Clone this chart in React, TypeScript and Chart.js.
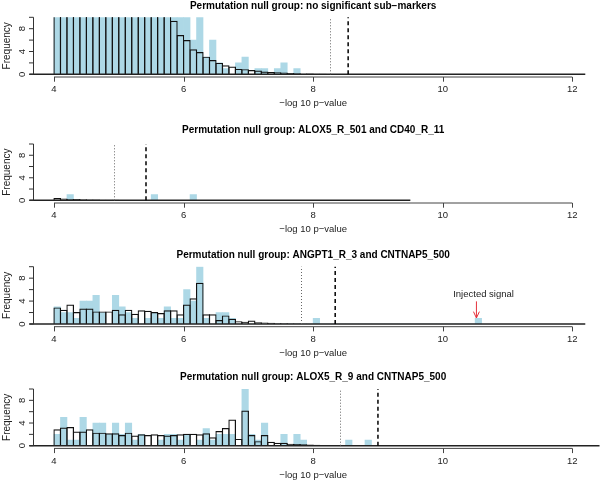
import React, { useEffect, useRef } from "react";
import { Chart, registerables } from "chart.js";

Chart.register(...registerables);

// ---------------- data ----------------
const BIN_START = 4.0;
const BIN_WIDTH = 0.1;
const X_TICKS = [4, 6, 8, 10, 12];
const Y_TICKS = [0, 2, 4, 6, 8, 10];
const Y_TICK_LABELS = ["0", "", "4", "", "8", ""];
const X_LABEL = "\u2212log 10 p\u2212value";
const Y_LABEL = "Frequency";

const TITLES = [
  "Permutation null group: no significant sub\u2212markers",
  "Permutation null group: ALOX5_R_501 and CD40_R_11",
  "Permutation null group: ANGPT1_R_3 and CNTNAP5_500",
  "Permutation null group: ALOX5_R_9 and CNTNAP5_500",
];

// panel 1 (bins of 0.1 starting at 4.0)
const p1Null = [260, 205, 160, 128, 102, 82, 66, 54, 44, 36, 30, 25, 21, 17.5, 15, 13, 11.5, 10.4,
  9.4, 6.9, 6.0, 4.4, 3.9, 3.1, 2.5, 2.0, 1.6, 1.35, 0.95, 0.9, 0.75, 0.65, 0.5, 0.4, 0.35, 0.3,
  0.22, 0.18, 0.15, 0.12, 0.1, 0.08, 0.07, 0.05, 0.05, 0.04, 0.03, 0.03, 0.02, 0.02, 0.01, 0.01, 0.01];
const p1Obs = [240, 210, 150, 135, 98, 85, 62, 57, 41, 37, 31, 24, 22, 16, 16, 12, 13, 11,
  12, 11, 10, 6, 10, 3, 6, 2, 1, 0, 2, 3, 0, 1, 1, 0, 1, 2, 0, 1];
const p1Dotted = 8.26;
const p1Dashed = 8.54;
const p1BaseEnd = 12.2;

// panel 2
const p2Null = [0.4, 0.3, 0.25, 0.22, 0.18, 0.15, 0.12, 0.1, 0.09, 0.08, 0.07, 0.06, 0.05, 0.05,
  0.04, 0.04, 0.03, 0.03, 0.03, 0.02, 0.02, 0.02, 0.02, 0.01, 0.01, 0.01];
const p2Obs = [0, 0, 1, 0, 0, 0, 0, 0, 0, 0, 0, 0, 0, 0, 0, 1, 0, 0, 0, 0, 0, 1];
const p2Dotted = 4.92;
const p2Dashed = 5.42;
const p2BaseEnd = 9.5;

// panel 3
const p3Null = [2.9, 2.5, 3.4, 2.1, 2.7, 2.7, 2.2, 2.2, 2.2, 2.5, 1.7, 2.5, 1.8, 2.4, 2.3, 2.1,
  1.9, 2.4, 2.4, 1.7, 3.4, 4.5, 7.2, 1.7, 1.7, 0.7, 1.5, 0.9, 0.5, 0.4, 0.6, 0.3, 0.25, 0.2, 0.15,
  0.15, 0.1, 0.08, 0.05];
const p3Obs = [3, 2, 2, 1, 4, 4, 5, 2, 0, 5, 3, 2, 1, 0, 1, 2, 1, 3, 1, 1, 6, 4, 10, 1, 0, 2, 2, 1,
  0, 0, 0, 0, 0, 0, 0, 0, 0, 0, 0, 0,
  1,
  0, 0, 0, 0, 0, 0, 0, 0, 0, 0, 0, 0, 0, 0, 0, 0, 0, 0, 0, 0, 0, 0, 0, 0,
  1];
const p3Dotted = 7.81;
const p3Dashed = 8.34;
const p3BaseEnd = 12.2;
const ANNOT_TEXT = "Injected signal";
const ANNOT_TEXT_AT = [10.63, 5.25];
const ANNOT_ARROW_X = 10.52;
const ANNOT_ARROW_FROM = 3.95;
const ANNOT_ARROW_TO = 1.05;

// panel 4
const p4Null = [2.9, 3.2, 3.3, 2.5, 2.5, 2.9, 2.3, 2.3, 2.2, 2.2, 1.9, 2.3, 1.8, 2.0, 1.9, 2.0,
  1.9, 1.8, 1.9, 2.0, 2.1, 2.1, 2.0, 2.2, 1.5, 2.6, 3.1, 4.6, 1.2, 6.2, 1.9, 0.8, 1.9, 0.7, 0.5,
  0.5, 0.35, 0.3, 0.25, 0.2, 0.15, 0.12, 0.1, 0.08, 0.06, 0.05, 0.04, 0.03];
const p4Obs = [2, 5, 1, 1, 5, 0, 4, 4, 2, 4, 2, 4, 1, 2, 0, 0, 1, 2, 2, 1, 2, 0, 1, 3, 1, 2, 2, 2,
  0, 10, 2, 1, 4, 0, 0, 2, 0, 2, 1, 0, 0, 0, 0, 0, 0, 1, 0, 0, 1];
const p4Dotted = 8.41;
const p4Dashed = 9.0;
const p4BaseEnd = 12.42;

// ---------------- layout / style ----------------
const W = 601;
const X_MIN = 3.6;
const X_MAX = 12.4;
const PX_PER_UNIT = 64.79;
const X4_PX = 54;
const BASE_START = 3.62;
const Y_AXIS_AT = 3.68;
const FONT = '"Liberation Sans", Arial, Helvetica, sans-serif';
const BLUE = "#ADD8E6";
const NULL_BORDER = 1.2;

const PANEL_LAYOUT = [
  { top: 0, height: 120, yTen: 17.3, yZero: 74.3, titleY: 6 },
  { top: 120, height: 120, yTen: 144, yZero: 200.3, titleY: 130 },
  { top: 240, height: 122, yTen: 266.7, yZero: 324, titleY: 255 },
  { top: 362, height: 122, yTen: 389, yZero: 445.7, titleY: 377.3 },
];

const PANELS = [
  { nul: p1Null, obs: p1Obs, dotted: p1Dotted, dashed: p1Dashed, baseEnd: p1BaseEnd, annot: false },
  { nul: p2Null, obs: p2Obs, dotted: p2Dotted, dashed: p2Dashed, baseEnd: p2BaseEnd, annot: false },
  { nul: p3Null, obs: p3Obs, dotted: p3Dotted, dashed: p3Dashed, baseEnd: p3BaseEnd, annot: true },
  { nul: p4Null, obs: p4Obs, dotted: p4Dotted, dashed: p4Dashed, baseEnd: p4BaseEnd, annot: false },
];

const toPoints = (counts: number[]) =>
  counts.map((c, i) => ({ x: BIN_START + BIN_WIDTH * (i + 0.5), y: c }));

const rAxesPlugin = {
  id: "rAxes",
  afterDatasetsDraw(chart: any, _args: any, o: any) {
    const ctx = chart.ctx as CanvasRenderingContext2D;
    const xs = chart.scales.x;
    const ys = chart.scales.y;
    const X = (v: number) => xs.getPixelForValue(v);
    const Y = (v: number) => ys.getPixelForValue(v);
    const y0 = Y(0);
    const y10 = Y(10);
    ctx.save();

    // baseline of the histograms
    ctx.strokeStyle = "#222";
    ctx.lineWidth = 1.4;
    ctx.beginPath();
    ctx.moveTo(X(BASE_START), y0);
    ctx.lineTo(X(o.baseEnd), y0);
    ctx.stroke();

    // dotted reference line
    ctx.setLineDash([1, 2]);
    ctx.strokeStyle = "#666";
    ctx.lineWidth = 1;
    let xv = Math.round(X(o.dotted)) + 0.5;
    ctx.beginPath();
    ctx.moveTo(xv, y0);
    ctx.lineTo(xv, y10);
    ctx.stroke();

    // dashed reference line
    ctx.setLineDash([4, 3]);
    ctx.strokeStyle = "#000";
    ctx.lineWidth = 1.5;
    xv = X(o.dashed);
    ctx.beginPath();
    ctx.moveTo(xv, y0);
    ctx.lineTo(xv, y10);
    ctx.stroke();
    ctx.setLineDash([]);

    // x axis
    const ax = y0 + 2.7;
    ctx.strokeStyle = "#444";
    ctx.lineWidth = 1;
    ctx.beginPath();
    ctx.moveTo(X(X_TICKS[0]), ax);
    ctx.lineTo(X(X_TICKS[X_TICKS.length - 1]), ax);
    X_TICKS.forEach((t) => {
      const px = Math.round(X(t)) + 0.5;
      ctx.moveTo(px, ax);
      ctx.lineTo(px, ax + 4.7);
    });
    ctx.stroke();
    ctx.fillStyle = "#222";
    ctx.font = `9.5px ${FONT}`;
    ctx.textAlign = "center";
    ctx.textBaseline = "middle";
    X_TICKS.forEach((t) => ctx.fillText(String(t), X(t), y0 + 15.5));
    ctx.fillText(X_LABEL, (X(X_TICKS[0]) + X(X_TICKS[X_TICKS.length - 1])) / 2, y0 + 29.5);

    // y axis
    const yx = Math.round(X(Y_AXIS_AT)) + 0.5;
    ctx.strokeStyle = "#333";
    ctx.beginPath();
    ctx.moveTo(yx, y0);
    ctx.lineTo(yx, y10);
    Y_TICKS.forEach((t) => {
      ctx.moveTo(yx, Y(t));
      ctx.lineTo(yx - 4.5, Y(t));
    });
    ctx.stroke();
    Y_TICKS.forEach((t, i) => {
      if (!Y_TICK_LABELS[i]) return;
      ctx.save();
      ctx.translate(yx - 11, Y(t));
      ctx.rotate(-Math.PI / 2);
      ctx.fillText(Y_TICK_LABELS[i], 0, 0);
      ctx.restore();
    });
    ctx.save();
    ctx.font = `10px ${FONT}`;
    ctx.translate(7.5, (y0 + y10) / 2);
    ctx.rotate(-Math.PI / 2);
    ctx.fillText(Y_LABEL, 0, 0);
    ctx.restore();

    // title
    ctx.fillStyle = "#000";
    ctx.font = `bold 10px ${FONT}`;
    ctx.fillText(o.title, (X(X_TICKS[0]) + X(X_TICKS[X_TICKS.length - 1])) / 2, o.titleY);

    // annotation
    if (o.annot) {
      ctx.fillStyle = "#222";
      ctx.font = `9.5px ${FONT}`;
      ctx.fillText(ANNOT_TEXT, X(ANNOT_TEXT_AT[0]), Y(ANNOT_TEXT_AT[1]));
      const axp = X(ANNOT_ARROW_X);
      const yFrom = Y(ANNOT_ARROW_FROM);
      const yTo = Y(ANNOT_ARROW_TO);
      ctx.strokeStyle = "#e5323c";
      ctx.lineWidth = 1;
      ctx.beginPath();
      ctx.moveTo(axp, yFrom);
      ctx.lineTo(axp, yTo);
      const hl = 7;
      const ang = (25 * Math.PI) / 180;
      ctx.moveTo(axp - hl * Math.sin(ang), yTo - hl * Math.cos(ang));
      ctx.lineTo(axp, yTo);
      ctx.lineTo(axp + hl * Math.sin(ang), yTo - hl * Math.cos(ang));
      ctx.stroke();
    }
    ctx.restore();
  },
};

function Panel({ index }: { index: number }) {
  const ref = useRef<HTMLCanvasElement | null>(null);
  const lay = PANEL_LAYOUT[index];
  const p = PANELS[index];
  useEffect(() => {
    if (!ref.current) return;
    const left = X4_PX + (X_MIN - 4) * PX_PER_UNIT;
    const right = W - (X4_PX + (X_MAX - 4) * PX_PER_UNIT);
    const top = lay.yTen - lay.top;
    const bottom = lay.height - (lay.yZero - lay.top);
    const binPx = BIN_WIDTH * PX_PER_UNIT;
    const chart = new Chart(ref.current, {
      type: "bar",
      data: {
        datasets: [
          {
            label: "null",
            data: toPoints(p.nul),
            backgroundColor: "rgba(0,0,0,0)",
            borderColor: "#111",
            borderWidth: NULL_BORDER,
            borderSkipped: "start",
            barPercentage: 1 + NULL_BORDER / binPx,
            categoryPercentage: 1,
            grouped: false,
            order: 1,
          } as any,
          {
            label: "observed",
            data: toPoints(p.obs),
            backgroundColor: BLUE,
            borderWidth: 0,
            barPercentage: 1,
            categoryPercentage: 1,
            grouped: false,
            order: 2,
          } as any,
        ],
      },
      options: {
        responsive: false,
        animation: false,
        devicePixelRatio: 1,
        layout: { padding: { left, right, top, bottom } },
        scales: {
          x: { type: "linear", min: X_MIN, max: X_MAX, offset: false, display: false },
          y: { type: "linear", min: 0, max: 10, display: false },
        },
        plugins: {
          legend: { display: false },
          tooltip: { enabled: false },
          rAxes: {
            title: TITLES[index],
            titleY: lay.titleY - lay.top,
            dotted: p.dotted,
            dashed: p.dashed,
            baseEnd: p.baseEnd,
            annot: p.annot,
          },
        } as any,
      },
      plugins: [rAxesPlugin],
    });
    return () => chart.destroy();
  }, [index]);
  return (
    <canvas
      ref={ref}
      width={W}
      height={lay.height}
      style={{ position: "absolute", left: 0, top: lay.top, width: W, height: lay.height }}
    />
  );
}

export default function App() {
  return (
    <div style={{ position: "absolute", left: 0, top: 0, width: W, height: 484, background: "#fff", overflow: "hidden" }}>
      {PANEL_LAYOUT.map((_, i) => (
        <Panel key={i} index={i} />
      ))}
    </div>
  );
}
